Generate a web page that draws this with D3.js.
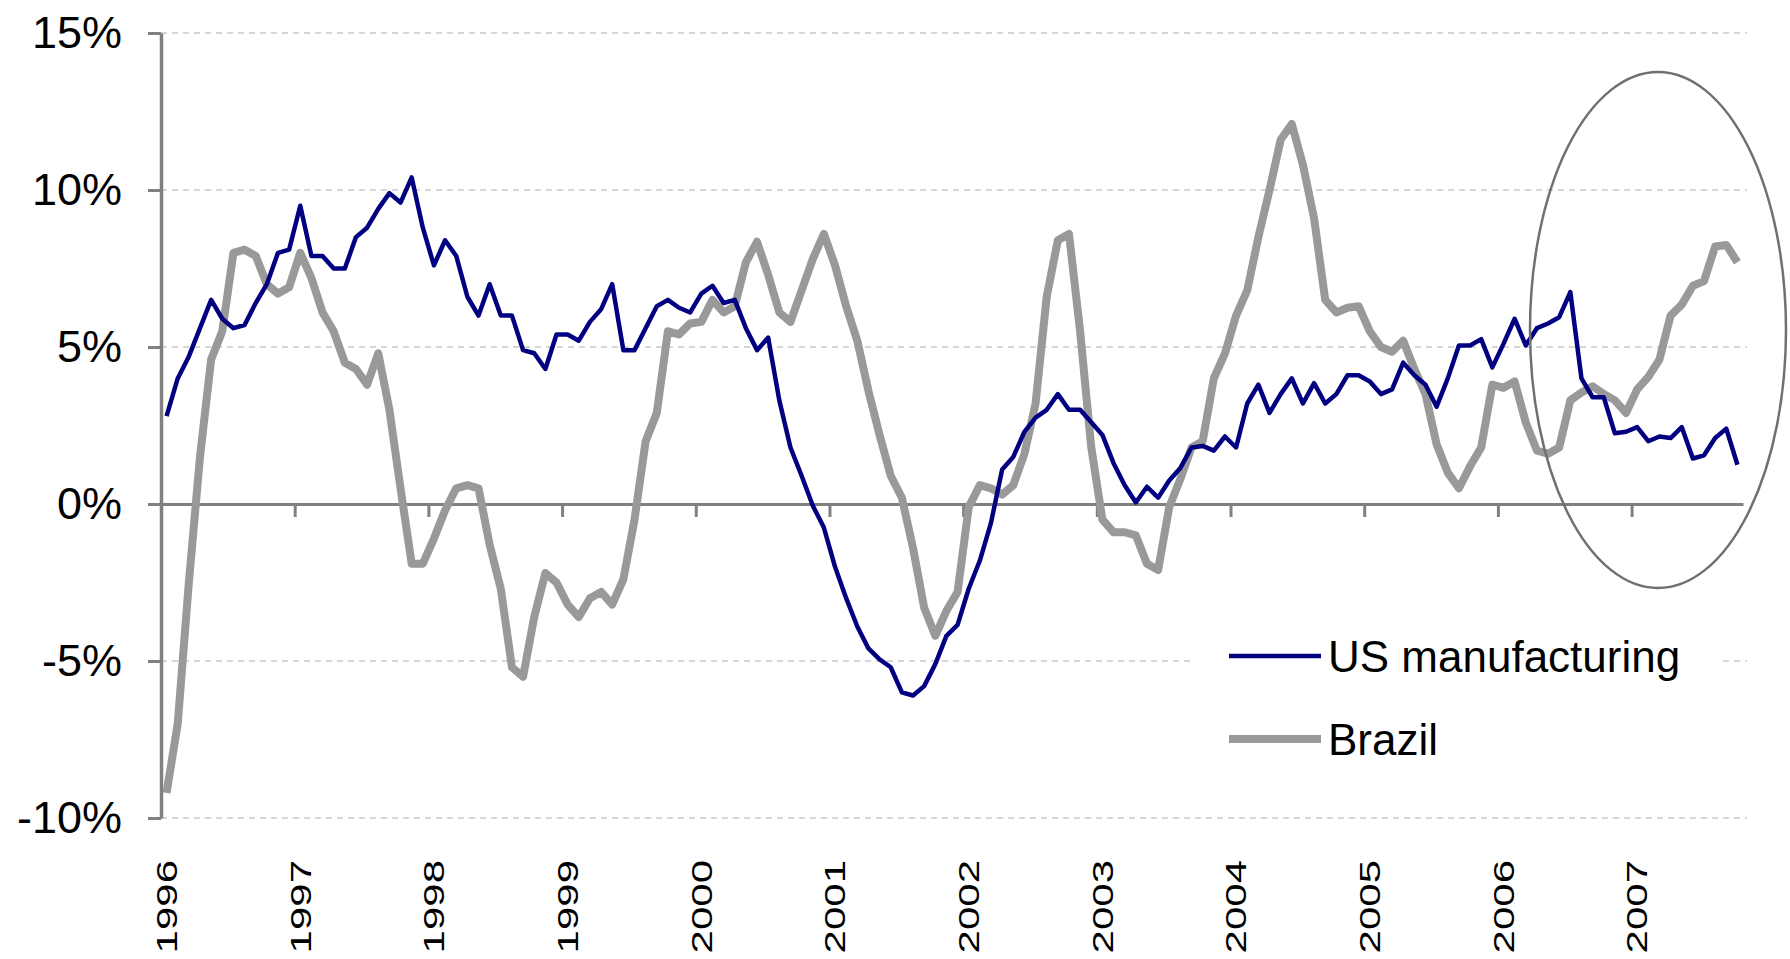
<!DOCTYPE html>
<html>
<head>
<meta charset="utf-8">
<style>
  body { margin: 0; background: #fff; }
  svg { display: block; }
  text { font-family: "Liberation Sans", Arial, sans-serif; fill: #000; }
</style>
</head>
<body>
<div id="chart"></div>
<script src="https://d3js.org/d3.v7.min.js"></script>
<script>
// year labels (one per January)
const years = [1996, 1997, 1998, 1999, 2000, 2001, 2002, 2003, 2004, 2005, 2006, 2007];

// monthly % change, Jan 1996 .. Oct 2007
const usManufacturing = [
  2.8, 4.0, 4.7, 5.6, 6.5, 5.9, 5.6, 5.7, 6.4, 7.0, 8.0, 8.1,
  9.5, 7.9, 7.9, 7.5, 7.5, 8.5, 8.8, 9.4, 9.9, 9.6, 10.4, 8.8,
  7.6, 8.4, 7.9, 6.6, 6.0, 7.0, 6.0, 6.0, 4.9, 4.8, 4.3, 5.4,
  5.4, 5.2, 5.8, 6.2, 7.0, 4.9, 4.9, 5.6, 6.3, 6.5, 6.25, 6.1,
  6.7, 6.95, 6.4, 6.5, 5.6, 4.9, 5.3, 3.3, 1.8, 0.9, -0.05, -0.75,
  -2.0, -3.0, -3.9, -4.6, -4.95, -5.2, -6.0, -6.1, -5.8, -5.1, -4.2, -3.85,
  -2.7, -1.8, -0.6, 1.1, 1.5, 2.3, 2.75, 3.0, 3.5, 3.0, 3.0, 2.6,
  2.2, 1.3, 0.6, 0.05, 0.55, 0.2, 0.75, 1.15, 1.8, 1.85, 1.7, 2.15,
  1.8, 3.2, 3.8, 2.9, 3.5, 4.0, 3.2, 3.85, 3.2, 3.5, 4.1, 4.1,
  3.9, 3.5, 3.65, 4.5, 4.1, 3.8, 3.1, 4.0, 5.05, 5.05, 5.25, 4.35,
  5.1, 5.9, 5.05, 5.6, 5.75, 5.95, 6.75, 4.0, 3.4, 3.4, 2.25, 2.3,
  2.45, 2.0, 2.15, 2.1, 2.45, 1.45, 1.55, 2.1, 2.4, 1.25
];

const brazil = [
  -9.2, -7.0, -2.5, 1.5, 4.6, 5.5, 8.0, 8.1, 7.9, 7.0, 6.7, 6.9,
  8.0, 7.2, 6.1, 5.5, 4.5, 4.3, 3.8, 4.8, 3.0, 0.5, -1.9, -1.9,
  -1.1, -0.2, 0.5, 0.6, 0.5, -1.3, -2.7, -5.2, -5.5, -3.6, -2.2, -2.5,
  -3.2, -3.6, -3.0, -2.8, -3.2, -2.4, -0.5, 2.0, 2.9, 5.5, 5.4, 5.75,
  5.8, 6.5, 6.1, 6.3, 7.7, 8.35, 7.3, 6.1, 5.8, 6.8, 7.8, 8.6,
  7.6, 6.3, 5.2, 3.6, 2.2, 0.9, 0.2, -1.4, -3.3, -4.2, -3.4, -2.8,
  -0.1, 0.6, 0.5, 0.3, 0.6, 1.6, 3.2, 6.6, 8.4, 8.6, 5.5, 1.8,
  -0.5, -0.9, -0.9, -1.0, -1.9, -2.1, -0.1, 0.8, 1.8, 2.0, 4.0, 4.8,
  6.0, 6.8, 8.5, 10.0, 11.6, 12.1, 10.8, 9.1, 6.5, 6.1, 6.25, 6.3,
  5.5, 5.0, 4.85, 5.2, 4.3, 3.5, 1.9, 1.0, 0.5, 1.2, 1.8, 3.8,
  3.7, 3.9, 2.6, 1.7, 1.6, 1.8, 3.3, 3.55, 3.75, 3.5, 3.3, 2.9,
  3.65, 4.05, 4.6, 6.0, 6.35, 6.95, 7.1, 8.2, 8.25, 7.7
];

const yTicks = [-10, -5, 0, 5, 10, 15];
const seriesNames = ["US manufacturing", "Brazil"];
const seriesColors = ["#000080", "#999999"];

const W = 1790, H = 959;
const plotLeft = 161, plotRight = 1743, plotTop = 33, plotBottom = 818;

const svg = d3.select("#chart").append("svg")
  .attr("width", W)
  .attr("height", H);

const months = d3.range(usManufacturing.length);

const x = d3.scaleBand()
  .domain(months)
  .range([plotLeft, plotRight]);
const xc = i => x(i) + x.bandwidth() / 2;

const xEdge = d3.scaleLinear()
  .domain([0, months.length])
  .range([plotLeft, plotRight]);

const y = d3.scaleLinear()
  .domain([-10, 15])
  .range([plotBottom, plotTop]);

// dashed gridlines
svg.append("g")
  .selectAll("line")
  .data(yTicks.filter(d => d !== 0))
  .enter()
  .append("line")
  .attr("x1", plotLeft)
  .attr("x2", 1747)
  .attr("y1", d => y(d))
  .attr("y2", d => y(d))
  .attr("stroke", "#d6d6d6")
  .attr("stroke-width", 2)
  .attr("stroke-dasharray", "6,5");

// y axis
const yAxis = svg.append("g")
  .attr("transform", `translate(${plotLeft},0)`)
  .call(d3.axisLeft(y)
    .tickValues(yTicks)
    .tickFormat(d => d + "%")
    .tickSize(13)
    .tickSizeOuter(0)
    .tickPadding(26));
yAxis.select(".domain").attr("stroke", "#808080").attr("stroke-width", 3.5);
yAxis.selectAll(".tick line").attr("stroke", "#808080").attr("stroke-width", 3);
yAxis.selectAll(".tick text")
  .attr("font-size", 45)
  .attr("font-family", "Liberation Sans, Arial, sans-serif")
  .attr("fill", "#000");

// x axis along 0%
const xAxis = svg.append("g")
  .attr("transform", `translate(0,${y(0)})`)
  .call(d3.axisBottom(xEdge)
    .tickValues(years.map((d, i) => i * 12))
    .tickFormat("")
    .tickSize(13)
    .tickSizeOuter(0));
xAxis.select(".domain").attr("stroke", "#808080").attr("stroke-width", 3);
xAxis.selectAll(".tick line").attr("stroke", "#808080").attr("stroke-width", 3);

// rotated year labels
svg.append("g")
  .selectAll("text")
  .data(years)
  .enter()
  .append("text")
  .attr("transform", (d, i) => `translate(${xc(i * 12)},860) rotate(-90) scale(1,0.72)`)
  .attr("text-anchor", "end")
  .attr("dominant-baseline", "central")
  .attr("font-size", 42)
  .text(d => d);

// lines
const line = d3.line()
  .x((d, i) => xc(i))
  .y(d => y(d));

svg.append("path")
  .datum(brazil)
  .attr("fill", "none")
  .attr("stroke", seriesColors[1])
  .attr("stroke-width", 8)
  .attr("stroke-linejoin", "round")
  .attr("d", line);

svg.append("path")
  .datum(usManufacturing)
  .attr("fill", "none")
  .attr("stroke", seriesColors[0])
  .attr("stroke-width", 4.5)
  .attr("stroke-linejoin", "round")
  .attr("d", line);

// highlight ellipse round the last year
svg.append("ellipse")
  .attr("cx", 1658)
  .attr("cy", 330)
  .attr("rx", 128)
  .attr("ry", 258)
  .attr("fill", "none")
  .attr("stroke", "#707070")
  .attr("stroke-width", 2.5);

// legend
const legend = svg.append("g");
legend.append("rect")
  .attr("x", 1190)
  .attr("y", 612)
  .attr("width", 530)
  .attr("height", 175)
  .attr("fill", "#fff");

const legendY = [656, 739];
seriesNames.forEach((name, i) => {
  legend.append("line")
    .attr("x1", 1229)
    .attr("x2", 1321)
    .attr("y1", legendY[i])
    .attr("y2", legendY[i])
    .attr("stroke", seriesColors[i])
    .attr("stroke-width", i === 0 ? 4.5 : 8);
  legend.append("text")
    .attr("x", 1328)
    .attr("y", legendY[i])
    .attr("dominant-baseline", "central")
    .attr("font-size", 44)
    .text(name);
});
</script>
</body>
</html>
